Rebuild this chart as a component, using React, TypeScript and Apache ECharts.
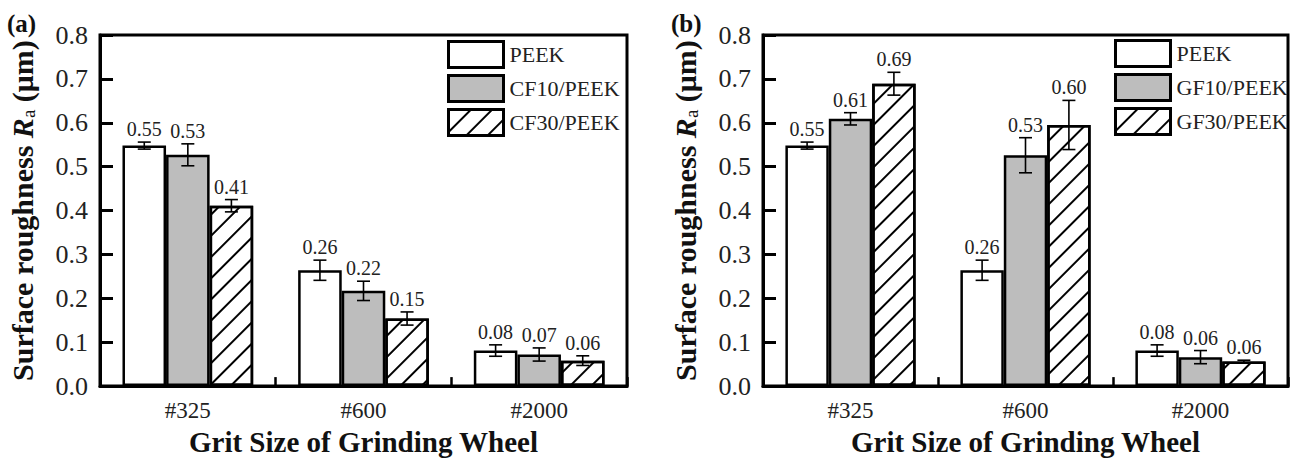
import React, { useEffect, useRef } from "react";
import * as echarts from "echarts";

const categories = ["#325", "#600", "#2000"];

const peekVals = [0.548, 0.264, 0.081];
const peekErr = [0.008, 0.023, 0.013];
const peekLabels = ["0.55", "0.26", "0.08"];

const cf10Vals = [0.527, 0.217, 0.072];
const cf10Err = [0.025, 0.022, 0.015];
const cf10Labels = ["0.53", "0.22", "0.07"];

const cf30Vals = [0.411, 0.154, 0.058];
const cf30Err = [0.014, 0.015, 0.011];
const cf30Labels = ["0.41", "0.15", "0.06"];

const gf10Vals = [0.609, 0.526, 0.066];
const gf10Err = [0.014, 0.04, 0.015];
const gf10Labels = ["0.61", "0.53", "0.06"];

const gf30Vals = [0.689, 0.595, 0.056];
const gf30Err = [0.026, 0.056, 0.003];
const gf30Labels = ["0.69", "0.60", "0.06"];

const yMin = 0;
const yMax = 0.8;
const yStep = 0.1;

const FONT = "'Liberation Serif', 'Times New Roman', serif";
const BAR_FRAC = 0.248;

const hatchDecal = {
  symbol: "rect",
  symbolSize: 1,
  color: "#000",
  dashArrayX: [1, 0],
  dashArrayY: [1.6, 12.5],
  rotation: -Math.PI / 4,
};

type SeriesDef = {
  name: string;
  vals: number[];
  errs: number[];
  labels: string[];
  fill: string;
  hatch: boolean;
};

const leftSeries: SeriesDef[] = [
  { name: "PEEK", vals: peekVals, errs: peekErr, labels: peekLabels, fill: "#ffffff", hatch: false },
  { name: "CF10/PEEK", vals: cf10Vals, errs: cf10Err, labels: cf10Labels, fill: "#bdbdbd", hatch: false },
  { name: "CF30/PEEK", vals: cf30Vals, errs: cf30Err, labels: cf30Labels, fill: "#ffffff", hatch: true },
];
const rightSeries: SeriesDef[] = [
  { name: "PEEK", vals: peekVals, errs: peekErr, labels: peekLabels, fill: "#ffffff", hatch: false },
  { name: "GF10/PEEK", vals: gf10Vals, errs: gf10Err, labels: gf10Labels, fill: "#bdbdbd", hatch: false },
  { name: "GF30/PEEK", vals: gf30Vals, errs: gf30Err, labels: gf30Labels, fill: "#ffffff", hatch: true },
];

function buildSeries(defs: SeriesDef[], axisIndex: number) {
  const out: any[] = [];
  defs.forEach((d) => {
    out.push({
      type: "bar",
      name: d.name,
      xAxisIndex: axisIndex,
      yAxisIndex: axisIndex,
      data: d.vals,
      barWidth: BAR_FRAC * 100 + "%",
      barGap: "0%",
      itemStyle: {
        color: d.fill,
        borderColor: "#000",
        borderWidth: 2.5,
        decal: d.hatch ? hatchDecal : undefined,
      },
      z: 2,
    });
  });
  defs.forEach((d, k) => {
    const offset = k - 1;
    out.push({
      type: "custom",
      name: d.name + "-err",
      xAxisIndex: axisIndex,
      yAxisIndex: axisIndex,
      z: 5,
      clip: false,
      data: d.vals.map((v, i) => [i, v, d.errs[i]]),
      renderItem: (params: any, api: any) => {
        const ci = api.value(0);
        const v = api.value(1);
        const e = api.value(2);
        const band = api.size([1, 0])[0];
        const bw = band * BAR_FRAC;
        const c = api.coord([ci, v]);
        const x = c[0] + offset * bw;
        const yTop = api.coord([ci, v + e])[1];
        const yBot = api.coord([ci, v - e])[1];
        const cap = 6.5;
        const ls = { stroke: "#000", lineWidth: 1.6 };
        return {
          type: "group",
          children: [
            { type: "line", shape: { x1: x, y1: yTop, x2: x, y2: yBot }, style: ls },
            { type: "line", shape: { x1: x - cap, y1: yTop, x2: x + cap, y2: yTop }, style: ls },
            { type: "line", shape: { x1: x - cap, y1: yBot, x2: x + cap, y2: yBot }, style: ls },
            {
              type: "text",
              x: x,
              y: yTop - 3,
              style: {
                text: d.labels[params.dataIndex],
                fontSize: 20,
                fontFamily: FONT,
                fill: "#222",
                align: "center",
                verticalAlign: "bottom",
              },
            },
          ],
        };
      },
    });
  });
  return out;
}

const yName = "{b|Surface roughness }{i|R}{s|a}{b| (μm)}";

function makeXAxis(gridIndex: number) {
  return {
    type: "category",
    gridIndex,
    data: categories,
    axisLine: { show: true, lineStyle: { color: "#000", width: 3 } },
    axisTick: { show: true, inside: true, length: 9, lineStyle: { color: "#000", width: 2.5 } },
    axisLabel: { fontSize: 23, fontFamily: FONT, color: "#222", margin: 13 },
    name: "Grit Size of Grinding Wheel",
    nameLocation: "middle",
    nameGap: 34,
    nameTextStyle: { fontSize: 29, fontWeight: "bold", fontFamily: FONT, color: "#111" },
  };
}

function makeYAxis(gridIndex: number) {
  return {
    type: "value",
    gridIndex,
    min: yMin,
    max: yMax,
    interval: yStep,
    axisLine: { show: true, lineStyle: { color: "#000", width: 3 } },
    axisTick: { show: true, inside: true, length: 13, lineStyle: { color: "#000", width: 3 } },
    splitLine: { show: false },
    axisLabel: {
      fontSize: 26,
      fontFamily: FONT,
      color: "#222",
      margin: 12,
      formatter: (v: number) => v.toFixed(1),
    },
    name: yName,
    nameLocation: "middle",
    nameRotate: 90,
    nameGap: 62,
    nameTextStyle: {
      fontFamily: FONT,
      color: "#111",
      rich: {
        b: { fontSize: 30, fontWeight: "bold", fontFamily: FONT, color: "#111" },
        i: { fontSize: 30, fontWeight: "bold", fontStyle: "italic", fontFamily: FONT, color: "#111" },
        s: { fontSize: 19, fontFamily: FONT, color: "#111", padding: [12, 0, 0, 0] },
      },
    },
  };
}

function makeLegend(names: string[], left: number, top: number) {
  return {
    data: names,
    orient: "vertical",
    left,
    top,
    padding: 0,
    itemGap: 5,
    itemWidth: 55,
    itemHeight: 26,
    icon: "rect",
    selectedMode: false,
    itemStyle: { borderColor: "#000", borderWidth: 3 },
    textStyle: { fontSize: 22, fontFamily: FONT, color: "#222", padding: [0, 0, 0, 1] },
  };
}

export default function App() {
  const ref = useRef<HTMLDivElement>(null);
  useEffect(() => {
    if (!ref.current) return;
    const chart = echarts.init(ref.current, undefined, { renderer: "svg" });
    const option: any = {
      animation: false,
      backgroundColor: "#fff",
      grid: [
        { left: 100, top: 35, width: 527, height: 362, show: true, borderColor: "#000", borderWidth: 3, backgroundColor: "transparent" },
        { left: 763, top: 35, width: 525, height: 362, show: true, borderColor: "#000", borderWidth: 3, backgroundColor: "transparent" },
      ],
      xAxis: [makeXAxis(0), makeXAxis(1)],
      yAxis: [makeYAxis(0), makeYAxis(1)],
      legend: [
        makeLegend(leftSeries.map((s) => s.name), 447, 40),
        makeLegend(rightSeries.map((s) => s.name), 1114, 39),
      ],
      graphic: [
        { type: "text", left: 7, top: 11, style: { text: "(a)", fontSize: 25, fontWeight: "bold", fontFamily: FONT, fill: "#111" } },
        { type: "text", left: 671, top: 11, style: { text: "(b)", fontSize: 25, fontWeight: "bold", fontFamily: FONT, fill: "#111" } },
      ],
      series: [...buildSeries(leftSeries, 0), ...buildSeries(rightSeries, 1)],
    };
    chart.setOption(option);
    return () => chart.dispose();
  }, []);
  return (
    <div
      ref={ref}
      style={{ position: "fixed", left: 0, top: 0, width: 1296, height: 461, background: "#fff" }}
    />
  );
}
